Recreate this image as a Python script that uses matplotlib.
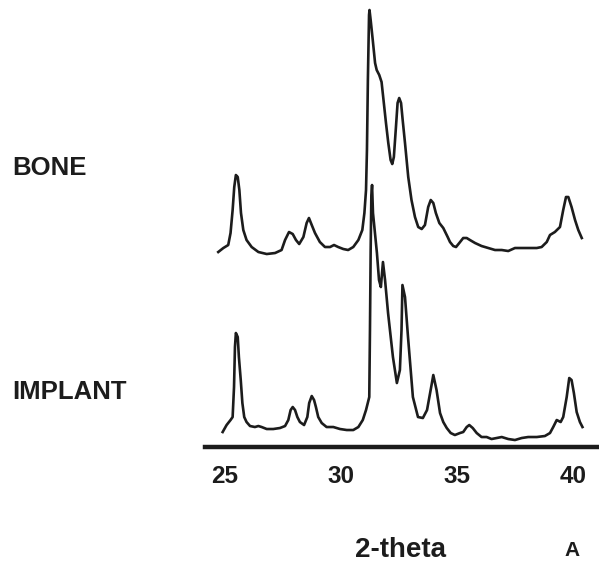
import matplotlib
matplotlib.use("Agg")
import matplotlib.pyplot as plt

# XRD patterns (2-theta in degrees, intensity in arbitrary units)
bone_2theta = [24.71, 24.93, 25.14, 25.24, 25.33, 25.40, 25.47, 25.55, 25.62, 25.69,
               25.79, 25.93, 26.15, 26.44, 26.80, 27.16, 27.44, 27.59, 27.76, 27.92,
               28.06, 28.20, 28.38, 28.52, 28.62, 28.74, 28.88, 29.09, 29.31, 29.53,
               29.70, 29.88, 30.10, 30.31, 30.53, 30.75, 30.92, 31.01, 31.08, 31.12,
               31.16, 31.21, 31.23, 31.28, 31.37, 31.47, 31.54, 31.65, 31.75, 31.82,
               31.94, 32.04, 32.14, 32.21, 32.28, 32.37, 32.44, 32.51, 32.59, 32.66,
               32.76, 32.90, 33.04, 33.19, 33.33, 33.48, 33.62, 33.76, 33.87, 33.98,
               34.09, 34.24, 34.41, 34.60, 34.70, 34.84, 34.96, 35.10, 35.27, 35.42,
               35.56, 35.78, 36.06, 36.35, 36.64, 36.93, 37.21, 37.50, 37.79, 38.15,
               38.44, 38.65, 38.87, 39.01, 39.22, 39.44, 39.58, 39.70, 39.80, 39.94,
               40.09, 40.23, 40.38]
bone_counts = [3, 7, 10, 22, 45, 68, 80, 78, 65, 42,
               25, 15, 8, 3, 1, 2, 5, 15, 23, 21,
               15, 11, 18, 32, 37, 30, 22, 13, 8, 8,
               10, 8, 6, 5, 8, 15, 25, 42, 65, 105,
               175, 240, 245, 235, 215, 192, 185, 180, 173, 158,
               132, 112, 95, 91, 98, 128, 152, 157, 152, 135,
               112, 78, 55, 38, 28, 26, 30, 48, 55, 52,
               42, 32, 27, 18, 13, 9, 8, 12, 17, 17,
               15, 12, 9, 7, 5, 5, 4, 7, 7, 7,
               7, 8, 13, 20, 23, 28, 45, 58, 58, 48,
               35, 25, 17]

implant_2theta = [24.90, 25.07, 25.24, 25.33, 25.39, 25.43, 25.47, 25.55, 25.60, 25.68,
                  25.75, 25.83, 25.93, 26.08, 26.29, 26.44, 26.58, 26.80, 27.08, 27.37,
                  27.59, 27.73, 27.83, 27.92, 28.02, 28.12, 28.23, 28.41, 28.55, 28.63,
                  28.74, 28.84, 28.92, 29.02, 29.17, 29.38, 29.67, 29.96, 30.25, 30.53,
                  30.75, 30.94, 31.08, 31.22, 31.25, 31.28, 31.31, 31.34, 31.38, 31.55,
                  31.64, 31.72, 31.81, 31.90, 32.03, 32.24, 32.41, 32.54, 32.61, 32.65,
                  32.76, 32.89, 33.10, 33.32, 33.53, 33.71, 33.92, 33.98, 34.12, 34.27,
                  34.41, 34.56, 34.73, 34.91, 35.13, 35.27, 35.42, 35.53, 35.68, 35.85,
                  36.06, 36.28, 36.49, 36.71, 36.93, 37.21, 37.50, 37.79, 38.07, 38.44,
                  38.79, 39.01, 39.15, 39.30, 39.47, 39.58, 39.73, 39.84, 39.94, 40.04,
                  40.16, 40.30, 40.41]
implant_counts = [8, 15, 20, 23, 53, 93, 107, 103, 83, 60,
                  37, 23, 18, 14, 13, 14, 13, 11, 11, 12,
                  14, 20, 30, 33, 30, 23, 18, 15, 23, 37,
                  44, 40, 33, 23, 17, 13, 13, 11, 10, 10,
                  13, 20, 30, 43, 110, 190, 245, 255, 227, 187,
                  160, 153, 178, 160, 127, 83, 57, 70, 110, 155,
                  143, 103, 43, 23, 22, 30, 57, 65, 50, 27,
                  18, 12, 7, 5, 7, 8, 13, 15, 12, 7,
                  3, 3, 1, 2, 3, 1, 0, 2, 3, 3,
                  4, 7, 13, 20, 18, 23, 43, 62, 60, 47,
                  28, 18, 13]

bone_offset = 192
implant_offset = 7
xticks = [25, 30, 35, 40]

plt.rcParams['font.family'] = ['Liberation Sans', 'DejaVu Sans']

fig = plt.figure(figsize=(5.99, 5.67), dpi=100)
ax = fig.add_axes([0.3422, 0.2116, 0.6594, 0.7884])

ink = '#1c1c1c'
ax.plot(bone_2theta, [c + bone_offset for c in bone_counts], color=ink, lw=1.9,
        solid_joinstyle='round')
ax.plot(implant_2theta, [c + implant_offset for c in implant_counts], color=ink, lw=1.9,
        solid_joinstyle='round')

ax.set_xlim(24.138, 41.164)
ax.set_ylim(0, 447)
for s in ['top', 'right', 'left']:
    ax.spines[s].set_visible(False)
ax.spines['bottom'].set_linewidth(3.2)
ax.spines['bottom'].set_color(ink)
ax.set_yticks([])
ax.set_xticks(xticks)
ax.tick_params(axis='x', length=0, pad=13, labelsize=17.5, colors=ink)
for lab in ax.get_xticklabels():
    lab.set_fontweight('bold')

fig.text(401 / 599, 1 - 550 / 567, '2-theta', ha='center', va='center',
         fontsize=20, fontweight='bold', color=ink)
fig.text(572 / 599, 1 - 551 / 567, 'A', ha='center', va='center',
         fontsize=15, fontweight='bold', color=ink)
fig.text(12 / 599, 1 - 168 / 567, 'BONE', ha='left', va='center',
         fontsize=18.5, fontweight='bold', color=ink)
fig.text(12 / 599, 1 - 392 / 567, 'IMPLANT', ha='left', va='center',
         fontsize=18.5, fontweight='bold', color=ink)

fig.savefig('out.png', dpi=100)
